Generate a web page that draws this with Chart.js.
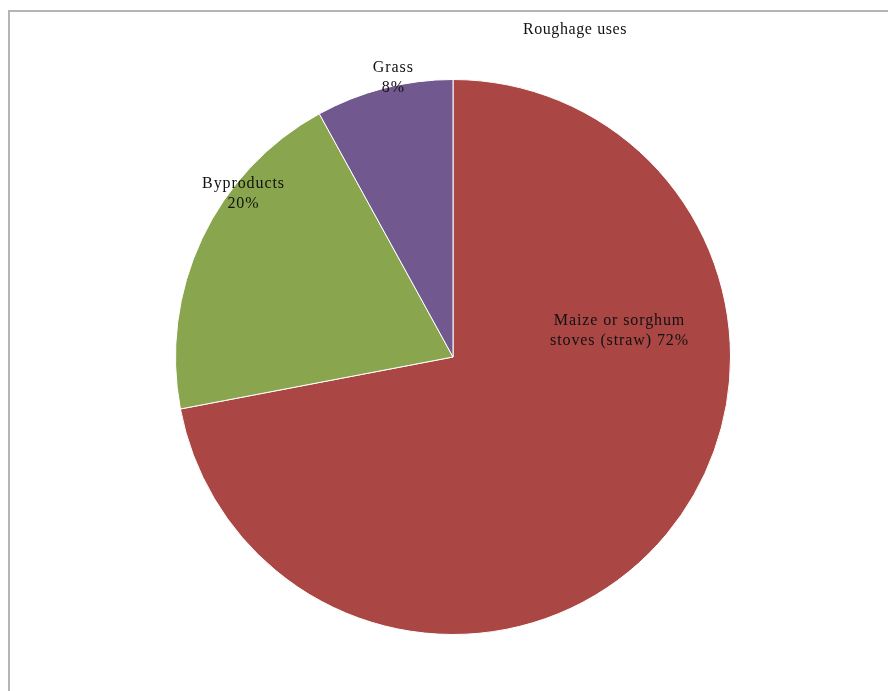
<!DOCTYPE html>
<html>
<head>
<meta charset="utf-8">
<script src="https://cdn.jsdelivr.net/npm/chart.js@4"></script>
<style>
    html, body { margin: 0; padding: 0; background: #fff; overflow: hidden; }
    #frame {
        position: absolute; left: 8px; top: 10px; width: 900px; height: 700px;
        border-top: 2px solid #b4b4b4; border-left: 2px solid #b4b4b4;
    }
    #wrap { position: absolute; left: 0; top: 0; width: 888px; height: 691px; }
</style>
</head>
<body>
<div id="frame"></div>
<div id="wrap"><canvas id="pie"></canvas></div>
<script>
// roughage shares, clockwise from 12 o'clock
const uses = ["Maize or sorghum stoves (straw)", "Byproducts", "Grass"];
const shares = [72, 20, 8];
const sliceColors = ["#AA4643", "#89A54E", "#71588F"];

// label lines for each slice, with an anchor relative to the pie centre (fractions of radius)
const labelLines = [
    ["Maize or sorghum", "stoves (straw) " + shares[0] + "%"],
    ["Byproducts", shares[1] + "%"],
    ["Grass", shares[2] + "%"]
];
const labelAnchors = [[0.60, -0.095], [-0.755, -0.588], [-0.215, -1.005]];

const labelPlugin = {
    id: "sliceLabels",
    afterDraw(chart) {
        const ctx = chart.ctx;
        const arc = chart.getDatasetMeta(0).data[0];
        const { x, y, outerRadius } = arc.getProps(["x", "y", "outerRadius"], true);
        ctx.save();
        ctx.fillStyle = "#111";
        ctx.textAlign = "center";
        ctx.textBaseline = "middle";
        ctx.font = "16px 'Liberation Serif', 'DejaVu Serif', serif";
        ctx.letterSpacing = "0.9px";
        labelLines.forEach((lines, i) => {
            const lx = x + labelAnchors[i][0] * outerRadius;
            const ly = y + labelAnchors[i][1] * outerRadius;
            lines.forEach((line, j) => {
                ctx.fillText(line, lx, ly + (j - (lines.length - 1) / 2) * 20);
            });
        });
        // chart title
        ctx.letterSpacing = "0.6px";
        ctx.fillText("Roughage uses", 575, 30);
        ctx.restore();
    }
};

new Chart(document.getElementById("pie"), {
    type: "pie",
    data: {
        labels: uses,
        datasets: [{
            data: shares,
            backgroundColor: sliceColors,
            borderColor: "#ffffff",
            borderWidth: 1
        }]
    },
    options: {
        responsive: true,
        maintainAspectRatio: false,
        animation: false,
        layout: { padding: { top: 79, bottom: 56, left: 175, right: 157 } },
        plugins: {
            legend: { display: false },
            tooltip: { enabled: false },
            title: { display: false }
        }
    },
    plugins: [labelPlugin]
});
</script>
</body>
</html>
